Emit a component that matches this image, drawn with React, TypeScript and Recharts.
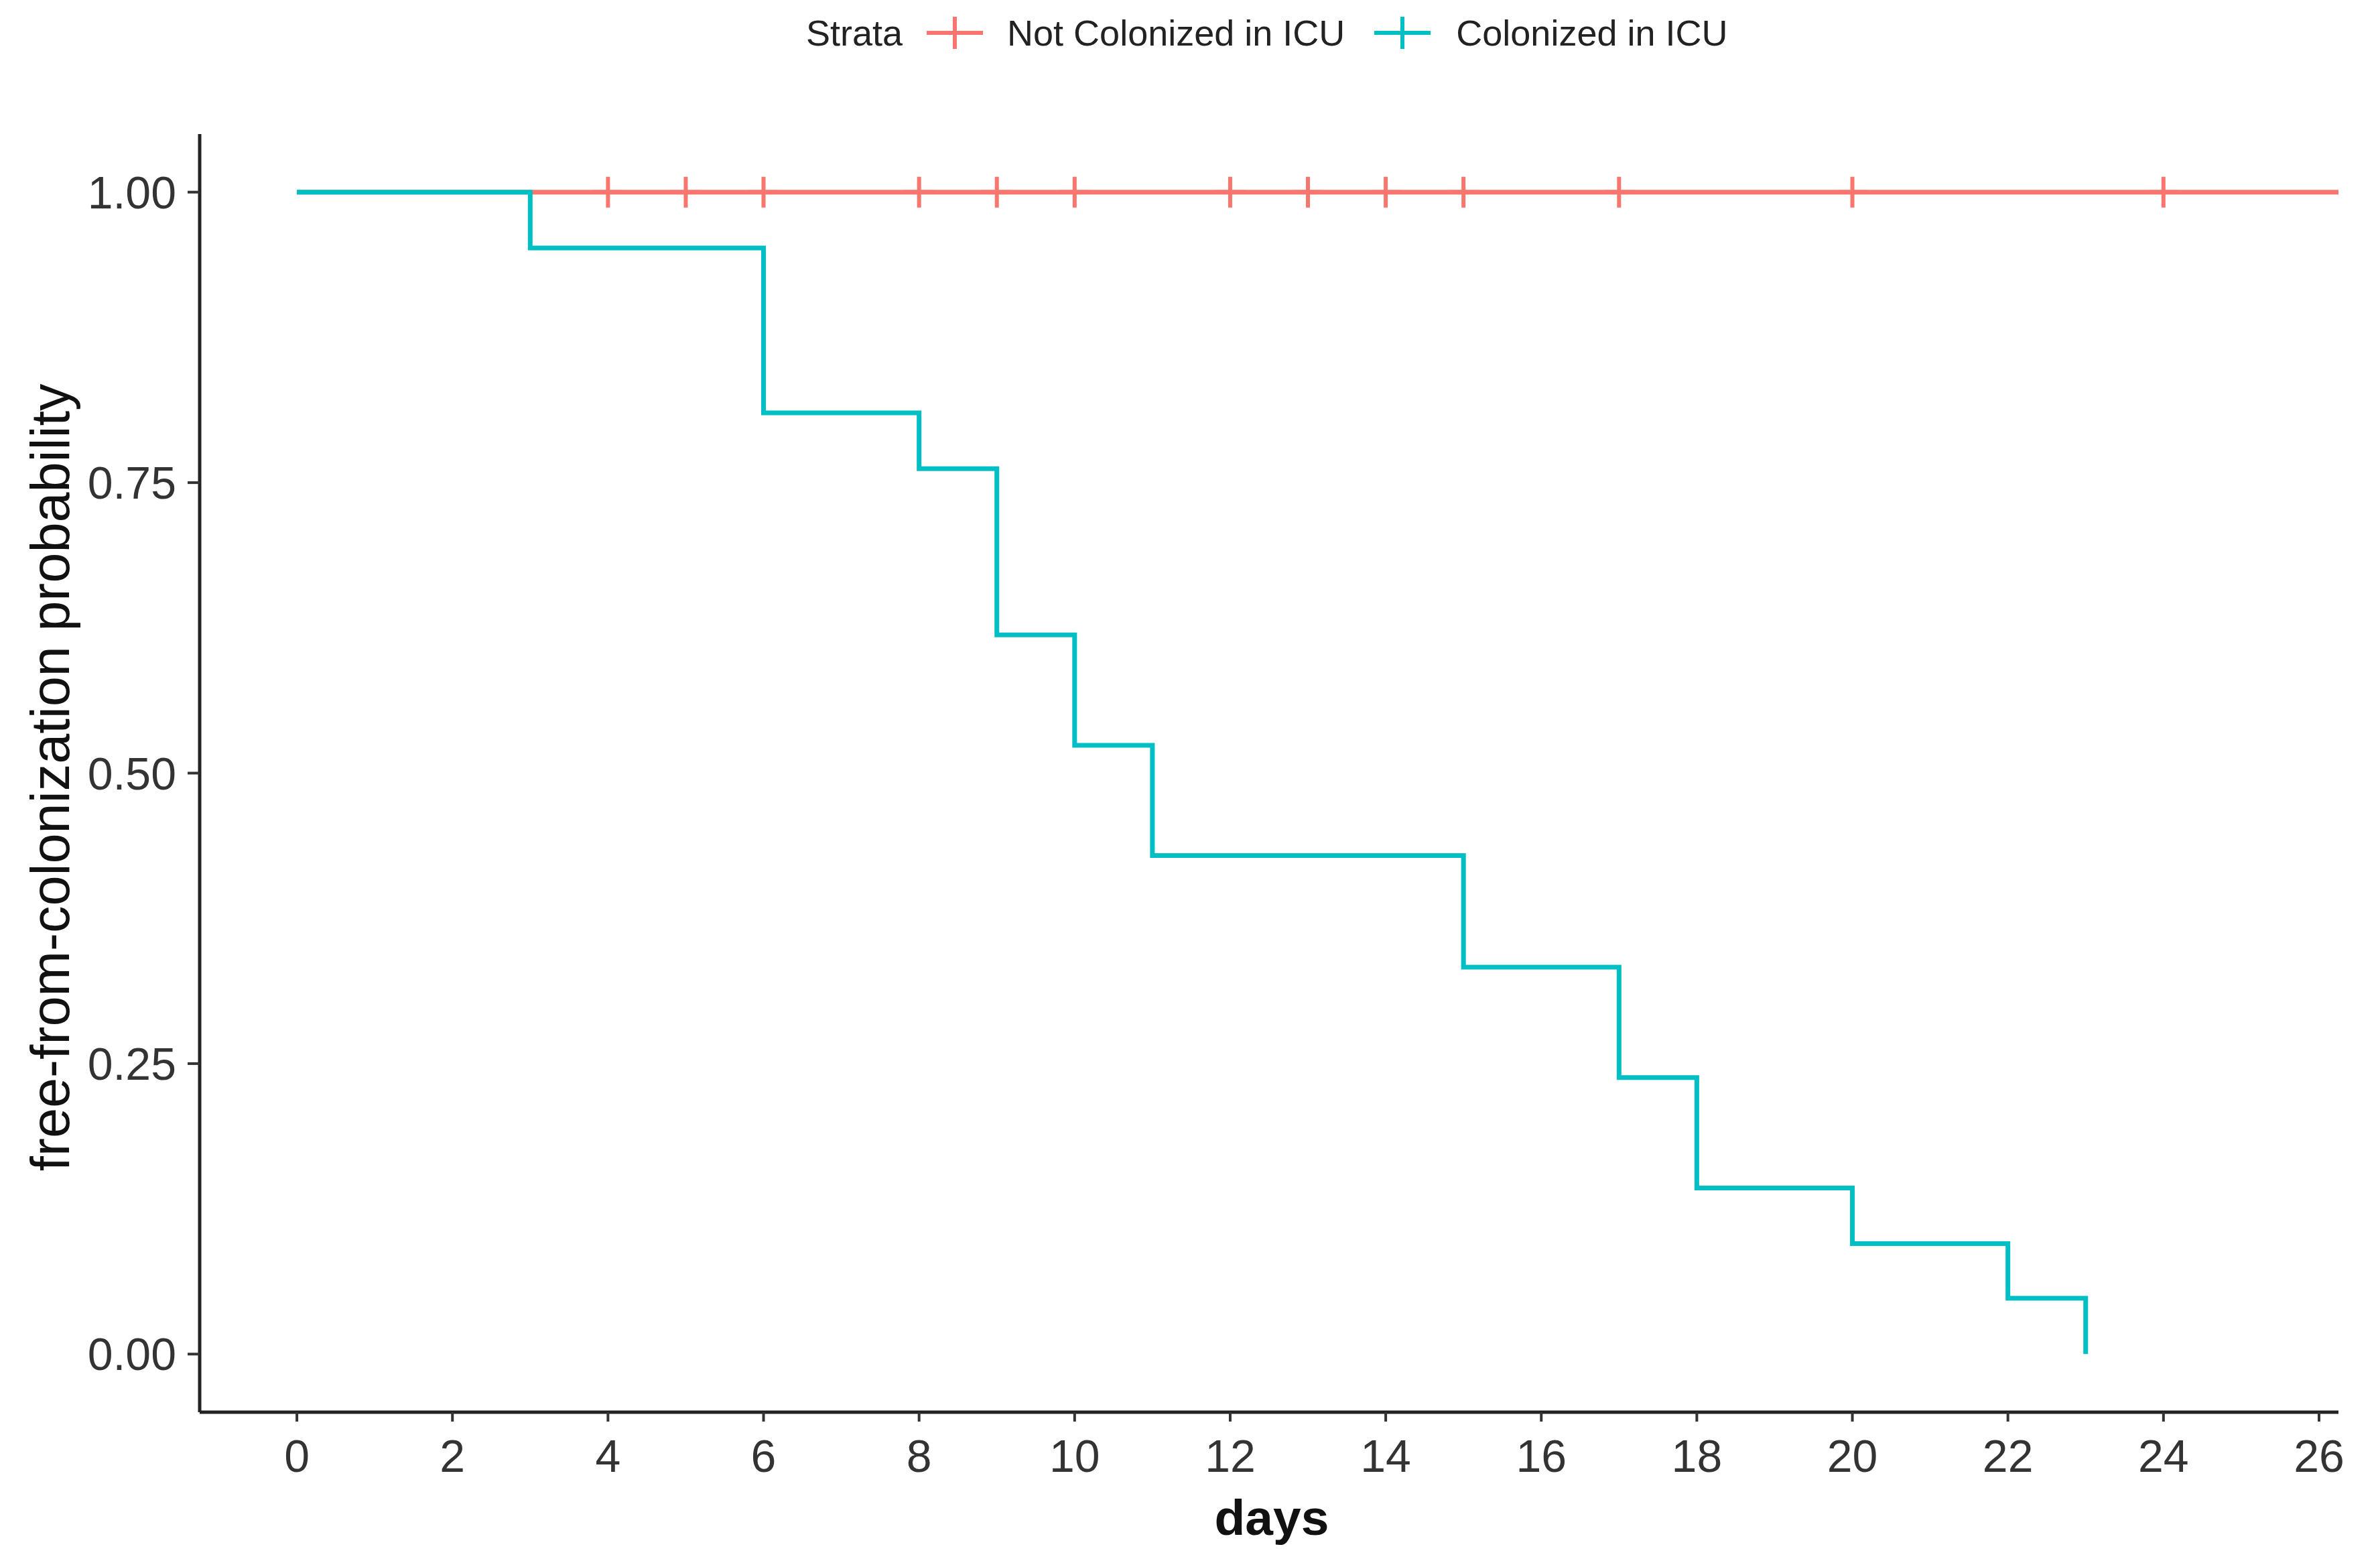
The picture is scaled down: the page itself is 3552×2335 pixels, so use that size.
import {
  ComposedChart,
  Line,
  Scatter,
  XAxis,
  YAxis,
} from "recharts";

const RED = "#F8766D";
const CYAN = "#00BFC4";

// Kaplan-Meier step points
const colonizedDays = [0, 3, 6, 8, 9, 10, 11, 15, 17, 18, 20, 22, 23];
const colonizedSurv = [1, 0.952, 0.81, 0.762, 0.619, 0.524, 0.429, 0.333, 0.238, 0.143, 0.095, 0.048, 0];

const notColonizedDays = [0, 26.25];
const notColonizedSurv = [1, 1];

// censor marks on the "Not Colonized" curve
const censorDays = [4, 5, 6, 8, 9, 10, 12, 13, 14, 15, 17, 20, 24];

const xTicks = [0, 2, 4, 6, 8, 10, 12, 14, 16, 18, 20, 22, 24, 26];
const yTicks = [0, 0.25, 0.5, 0.75, 1];

const colonized = colonizedDays.map((x, i) => ({ x, y: colonizedSurv[i] }));
const notColonized = notColonizedDays.map((x, i) => ({ x, y: notColonizedSurv[i] }));
const censored = censorDays.map((x) => ({ x, y: 1 }));

const FONT = "'Liberation Sans', Arial, sans-serif";

function Plus(props: any) {
  const { cx, cy } = props;
  if (cx == null || cy == null) return null;
  return (
    <path
      d={`M${cx - 22},${cy}h44M${cx},${cy - 23}v46`}
      stroke={RED}
      strokeWidth={6}
      fill="none"
    />
  );
}

function Key({ color }: { color: string }) {
  return (
    <svg width={84} height={50} style={{ display: "block" }}>
      <path d="M0,25h84M42,1v48" stroke={color} strokeWidth={6} fill="none" />
    </svg>
  );
}

function TopLegend() {
  const text = { fontSize: 54, color: "#222", fontFamily: FONT, whiteSpace: "nowrap" as const };
  return (
    <div
      style={{
        position: "absolute",
        left: 1203,
        top: 24,
        height: 50,
        display: "flex",
        alignItems: "center",
      }}
    >
      <span style={text}>Strata</span>
      <div style={{ width: 36 }} />
      <Key color={RED} />
      <div style={{ width: 36 }} />
      <span style={text}>Not Colonized in ICU</span>
      <div style={{ width: 44 }} />
      <Key color={CYAN} />
      <div style={{ width: 38 }} />
      <span style={text}>Colonized in ICU</span>
    </div>
  );
}

export default function App() {
  return (
    <div
      style={{
        position: "absolute",
        left: 0,
        top: 0,
        width: 3552,
        height: 2335,
        background: "#fff",
      }}
    >
      <TopLegend />
      <ComposedChart
        width={3552}
        height={2335}
        margin={{ top: 200, right: 62, bottom: 0, left: 0 }}
      >
        <XAxis
          dataKey="x"
          type="number"
          domain={[-1.25, 26.25]}
          allowDataOverflow
          ticks={xTicks}
          interval={0}
          height={228}
          axisLine={{ stroke: "#222", strokeWidth: 5 }}
          tickLine={{ stroke: "#333", strokeWidth: 4 }}
          tickSize={14}
          tickMargin={27}
          tick={{ fontSize: 68, fill: "#333", fontFamily: FONT }}
          label={{
            content: (p: any) => {
              const vb = p.viewBox || {};
              return (
                <text
                  x={(vb.x ?? 298) + (vb.width ?? 3192) / 2 + 4}
                  y={2290}
                  textAnchor="middle"
                  fontSize={75}
                  fontWeight="bold"
                  fontFamily={FONT}
                  fill="#111"
                >
                  days
                </text>
              );
            },
          }}
        />
        <YAxis
          dataKey="y"
          type="number"
          domain={[-0.05, 1.05]}
          allowDataOverflow
          ticks={yTicks}
          width={298}
          axisLine={{ stroke: "#222", strokeWidth: 5 }}
          tickLine={{ stroke: "#333", strokeWidth: 4 }}
          tickSize={18}
          tickMargin={17}
          tickFormatter={(v: number) => v.toFixed(2)}
          tick={{ fontSize: 68, fill: "#333", fontFamily: FONT }}
          label={{
            content: () => (
              <text
                transform="translate(103, 1160) rotate(-90)"
                textAnchor="middle"
                fontSize={81}
                fontFamily={FONT}
                fill="#111"
              >
                free-from-colonization probability
              </text>
            ),
          }}
        />
        <Line
          data={notColonized}
          dataKey="y"
          type="stepAfter"
          stroke={RED}
          strokeWidth={7}
          dot={false}
          activeDot={false}
          isAnimationActive={false}
        />
        <Scatter
          data={censored}
          dataKey="y"
          shape={<Plus />}
          isAnimationActive={false}
        />
        <Line
          data={colonized}
          dataKey="y"
          type="stepAfter"
          stroke={CYAN}
          strokeWidth={7}
          dot={false}
          activeDot={false}
          isAnimationActive={false}
        />
      </ComposedChart>
    </div>
  );
}
